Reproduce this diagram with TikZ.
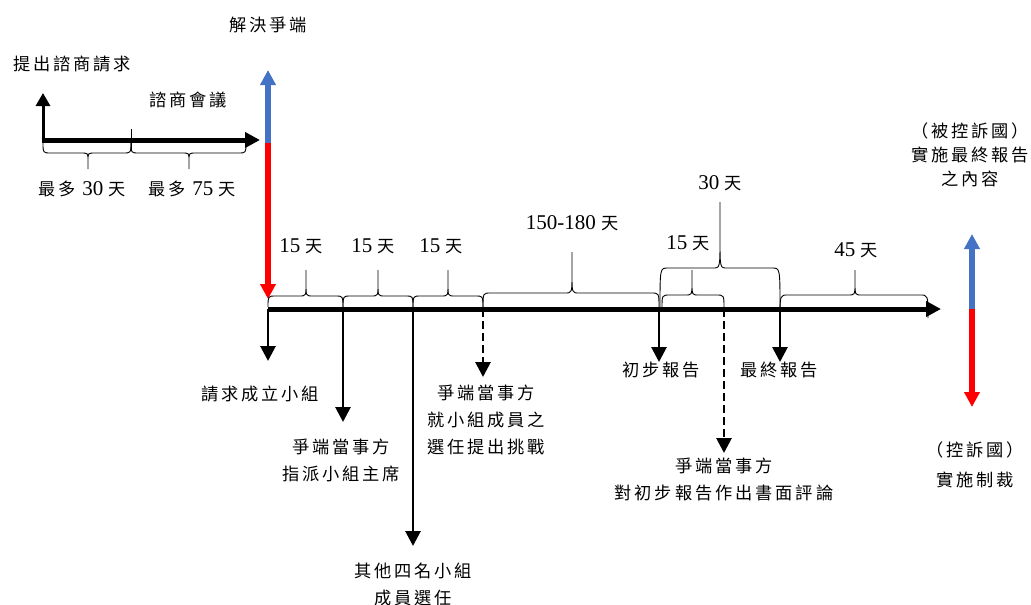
\documentclass[tikz,border=0pt]{standalone}
\usepackage{fontspec}
\setmainfont{Liberation Serif}
\newfontfamily\cjk[Scale=0.82,LetterSpace=17]{Noto Sans CJK TC}
\usepackage{xcolor}
\definecolor{tlblue}{RGB}{68,114,196}
\definecolor{tlred}{RGB}{255,0,0}
\usetikzlibrary{arrows.meta}

\newcommand{\zh}[1]{{\cjk #1}}
% x1, x2, x of tip, y of ends, y of flat, y of tip
\newcommand{\curlybrace}[6]{%
  \draw[braceline] (#1,#4) .. controls (#1,#5) .. ({#1+8},#5) -- ({#3-7},#5)
    .. controls (#3,#5) .. (#3,{#5+0.45*(#6-#5)}) -- (#3,#6)
    -- (#3,{#5+0.45*(#6-#5)}) .. controls (#3,#5) .. ({#3+7},#5)
    -- ({#2-8},#5) .. controls (#2,#5) .. (#2,#4);}

\begin{document}
\begin{tikzpicture}[x=1pt,y=-1pt,
  lbl/.style={font=\fontsize{21}{27}\selectfont, align=center, inner sep=0pt},
  braceline/.style={line width=0.9pt},
  timeline/.style={line width=5pt, -{Triangle[width=15pt,length=15pt]}},
  evarrow/.style={line width=2.8pt, -{Triangle[width=15pt,length=15pt]}},
  evdash/.style={evarrow, dash pattern=on 8pt off 4pt},
  statearrow/.style={line width=6pt, -{Triangle[width=15pt,length=15pt]}}]
  \useasboundingbox (0,0) rectangle (1031,605);

  % consultations
  \coordinate (req) at (43,141.5);
  \coordinate (req top) at (43,93);
  \coordinate (cons) at (41.5,140);
  \coordinate (cons end) at (260,140);
  \draw[line width=3pt, -{Triangle[width=14pt,length=13pt]}] (req) -- (req top);
  \draw[timeline] (cons) -- (cons end);
  \draw[braceline] (131,129) -- (131,150);
  \curlybrace{43}{131}{88}{143}{153}{169}
  \curlybrace{131}{246}{189}{143}{153}{169}

  \node[lbl] (reqlbl) at (72,64) {\zh{提出諮商請求}};
  \node[lbl] (conslbl) at (188,100) {\zh{諮商會議}};
  \node[lbl] (d30) at (82,189) {\zh{最多}\hspace{7pt}30 \zh{天}};
  \node[lbl] (d75) at (192,189) {\zh{最多}\hspace{7pt}75 \zh{天}};
  \node[lbl] (settle) at (268,25) {\zh{解決爭端}};

  \coordinate (split) at (268,143);
  \coordinate (split top) at (268,70);
  \coordinate (split bot) at (268,299);
  \draw[statearrow, tlblue] (split) -- (split top);
  \draw[statearrow, tlred] (split) -- (split bot);

  % panel stage
  \coordinate (t0) at (268,309);
  \coordinate (t1) at (343,309);
  \coordinate (t2) at (413,309);
  \coordinate (t3) at (483,309);
  \coordinate (t4) at (659,309);
  \coordinate (t5) at (724,309);
  \coordinate (t6) at (780,309);
  \coordinate (tend) at (941,309);
  \draw[timeline] (t0) -- (tend);

  \curlybrace{268}{343}{306}{307}{296}{270}
  \curlybrace{343}{413}{378}{307}{296}{270}
  \curlybrace{413}{483}{448}{307}{296}{270}
  \curlybrace{483}{659}{572}{307}{293}{252}
  \curlybrace{662}{724}{692}{308}{295}{270}
  \curlybrace{660}{780}{720}{308}{268}{202}
  \curlybrace{780}{928}{855}{318}{295}{270}

  \node[lbl] (p1) at (301,246) {15 \zh{天}};
  \node[lbl] (p2) at (373,246) {15 \zh{天}};
  \node[lbl] (p3) at (441,246) {15 \zh{天}};
  \node[lbl] (p4) at (572,223) {150-180 \zh{天}};
  \node[lbl] (p5) at (688,243) {15 \zh{天}};
  \node[lbl] (p6) at (720,183) {30 \zh{天}};
  \node[lbl] (p7) at (856,250) {45 \zh{天}};

  \coordinate (t0 tip) at (268,361);
  \coordinate (t1 tip) at (343,422);
  \coordinate (t2 tip) at (413,546);
  \coordinate (t3 tip) at (483,377);
  \coordinate (t4 tip) at (659,362);
  \coordinate (t5 tip) at (724,453);
  \coordinate (t6 tip) at (780,362);
  \draw[evarrow] (t0) -- (t0 tip);
  \draw[evarrow] (t1) -- (t1 tip);
  \draw[evarrow] (t2) -- (t2 tip);
  \draw[evdash] (t3) -- (t3 tip);
  \draw[evarrow] (t4) -- (t4 tip);
  \draw[evdash] (t5) -- (t5 tip);
  \draw[evarrow] (t6) -- (t6 tip);

  \node[lbl] (e0) at (260,394) {\zh{請求成立小組}};
  \node[lbl] (e1) at (341,460) {\zh{爭端當事方}\\\zh{指派小組主席}};
  \node[lbl] (e2) at (413,584) {\zh{其他四名小組}\\\zh{成員選任}};
  \node[lbl] (e3) at (486,420) {\zh{爭端當事方}\\\zh{就小組成員之}\\\zh{選任提出挑戰}};
  \node[lbl] (e4) at (661,370) {\zh{初步報告}};
  \node[lbl] (e5) at (724,479) {\zh{爭端當事方}\\\zh{對初步報告作出書面評論}};
  \node[lbl] (e6) at (779,370) {\zh{最終報告}};

  % implementation
  \coordinate (impl) at (972,309);
  \coordinate (impl top) at (972,234);
  \coordinate (impl bot) at (972,407);
  \draw[statearrow, tlblue] (impl) -- (impl top);
  \draw[statearrow, tlred] (impl) -- (impl bot);
  \node[lbl] (comply) at (970,155) {\zh{（被控訴國）}\\[-3pt]\zh{實施最終報告}\\[-3pt]\zh{之內容}};
  \node[lbl] (sanction) at (975,465) {\zh{（控訴國）}\\[3pt]\zh{實施制裁}};
\end{tikzpicture}
\end{document}
